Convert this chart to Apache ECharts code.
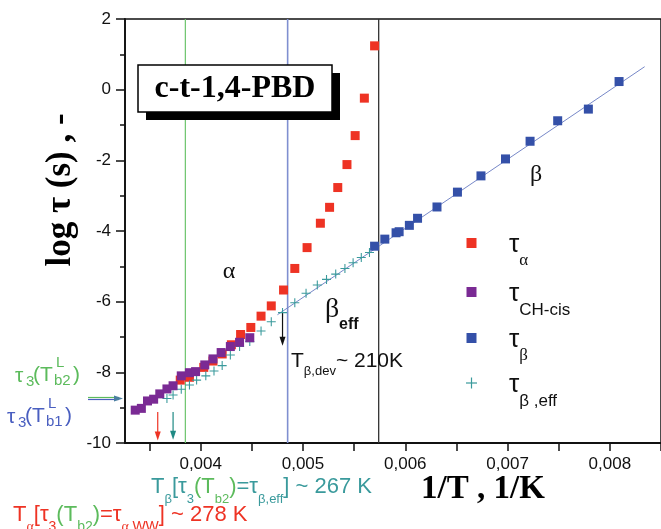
<!DOCTYPE html>
<html>
<head>
<meta charset="utf-8">
<script src="https://cdn.jsdelivr.net/npm/echarts@6/dist/echarts.min.js"></script>
<style>
  html, body { margin: 0; padding: 0; background: #fff; }
  #chart { width: 661px; height: 529px; }
</style>
</head>
<body>
<div id="chart"></div>
<script>
// 数据 (1/T, log tau)
const tauAlpha = [
  [0.00380, -8.22], [0.00389, -8.14], [0.00403, -7.86], [0.00412, -7.68],
  [0.00421, -7.48], [0.00430, -7.22], [0.00439, -6.93], [0.00449, -6.73],
  [0.00459, -6.41], [0.00469, -6.12], [0.00481, -5.67], [0.00492, -5.06],
  [0.00504, -4.47], [0.00517, -3.78], [0.00526, -3.33], [0.00534, -2.77],
  [0.00543, -2.12], [0.00551, -1.30], [0.00560, -0.24], [0.00570, 1.24]
];
const tauCH = [
  [0.00336, -9.07], [0.00342, -9.02], [0.00348, -8.81], [0.00354, -8.76],
  [0.00360, -8.61], [0.00367, -8.47], [0.00373, -8.38], [0.00381, -8.10],
  [0.00389, -8.01], [0.00395, -7.98], [0.00404, -7.79], [0.00412, -7.62],
  [0.00420, -7.44], [0.00429, -7.27], [0.00438, -7.15], [0.00448, -7.02]
];
const tauBeta = [
  [0.00570, -4.43], [0.00580, -4.23], [0.00591, -4.05], [0.00594, -4.02],
  [0.00604, -3.84], [0.00612, -3.64], [0.00631, -3.32], [0.00651, -2.90],
  [0.00674, -2.44], [0.00698, -1.96], [0.00722, -1.46], [0.00749, -0.88],
  [0.00779, -0.55], [0.00809, 0.23]
];
const tauBetaEff = [
  [0.00367, -8.74], [0.00373, -8.64], [0.00381, -8.48], [0.00389, -8.36],
  [0.00396, -8.22], [0.00405, -8.10], [0.00413, -7.96], [0.00421, -7.81],
  [0.00429, -7.51], [0.00438, -7.27], [0.00448, -7.13], [0.00459, -6.83],
  [0.00469, -6.57], [0.00480, -6.31], [0.00492, -6.03], [0.00503, -5.76],
  [0.00514, -5.53], [0.00523, -5.37], [0.00532, -5.22], [0.00541, -5.06],
  [0.00549, -4.90], [0.00557, -4.75], [0.00565, -4.61]
];
const betaFit = [[0.00475, -6.37], [0.00834, 0.65]];
const vLines = [0.00385, 0.00485, 0.00574];
const arrowRed = [[0.00358, -9.12], [0.00358, -9.80]];
const arrowTeal = [[0.00373, -9.12], [0.00373, -9.78]];
const arrowDev = [[0.00480, -6.33], [0.00480, -7.12]];
const xTicks = [0.0035, 0.004, 0.0045, 0.005, 0.0055, 0.006, 0.0065, 0.007, 0.0075, 0.008, 0.0085];
const xLabels = [0.004, 0.005, 0.006, 0.007, 0.008];
const yMin = -10, yMax = 2;

const RED = '#ee3324', PURPLE = '#7a2a94', BLUE = '#3450a8', TEAL = '#3a9a9c';
const GREEN = '#5cbb5c', LBLUE = '#4a5fc0';
const SANS = '"Liberation Sans", Arial, sans-serif';
const SERIF = '"Liberation Serif", "Times New Roman", serif';
const PLUS = 'path://M4.4,0H5.6V4.4H10V5.6H5.6V10H4.4V5.6H0V4.4H4.4Z';

// 竖线
function vLineSeries(x, color, width) {
  return {
    type: 'line', data: [[x, yMin], [x, yMax]], symbol: 'none', z: 1, silent: true,
    lineStyle: { color: color, width: width }
  };
}

// 向下箭头
function arrowSeries(pts, color) {
  return {
    type: 'line', z: 3, silent: true, showSymbol: true,
    data: [
      { value: pts[0], symbol: 'none' },
      { value: pts[1], symbol: 'triangle', symbolRotate: 180, symbolSize: [6, 9] }
    ],
    lineStyle: { color: color, width: 1.2 },
    itemStyle: { color: color }
  };
}

function txt(x, y, text, size, color, extra) {
  return {
    type: 'text', x: x, y: y, z: 100,
    style: Object.assign({
      text: text, fontSize: size, fontFamily: SANS, fill: color,
      align: 'left', verticalAlign: 'middle'
    }, extra || {})
  };
}

// 带下标的文字
function subRich(size, subSize, shift, color) {
  return {
    m: { fontSize: size, fontFamily: SANS, fill: color },
    s: { fontSize: subSize, fontFamily: SANS, fill: color, padding: [shift * 2, 0, 0, 0] },
    g: { fontSize: size, fontFamily: SANS, fill: GREEN },
    gs: { fontSize: subSize, fontFamily: SANS, fill: GREEN, padding: [shift * 2, 0, 0, 0] },
    ss: { fontSize: subSize, fontFamily: SERIF, fill: color, padding: [shift * 2, 0, 0, 0] }
  };
}

function tauLabel(x, y, color, sub) {
  return [
    txt(x, y, 'τ', 21, color),
    txt(x + 11, y + 6, '3', 15, color),
    txt(x + 18, y - 1, '(T', 21, color),
    txt(x + 41, y - 13, 'L', 15, color),
    txt(x + 39, y + 5, sub, 15, color),
    txt(x + 58, y - 1, ')', 21, color)
  ];
}

function legendItem(y, color, sub, plus) {
  const icon = plus
    ? [
        { type: 'line', z: 100, shape: { x1: 466, y1: y, x2: 477, y2: y }, style: { stroke: color, lineWidth: 1.2 } },
        { type: 'line', z: 100, shape: { x1: 471.5, y1: y - 5.5, x2: 471.5, y2: y + 5.5 }, style: { stroke: color, lineWidth: 1.2 } }
      ]
    : [{ type: 'rect', z: 100, shape: { x: 466.5, y: y - 5, width: 10, height: 10 }, style: { fill: color } }];
  return icon.concat([
    {
      type: 'text', x: 509, y: y + 2, z: 100,
      style: {
        text: '{t|τ}{s|' + sub + '}', align: 'left', verticalAlign: 'middle',
        rich: {
          t: { fontSize: 26, fontFamily: SANS, fill: '#111' },
          s: { fontSize: 17, fontFamily: sub === 'α' || sub === 'β' ? SERIF : SANS, fill: '#111', padding: [32, 0, 0, 0] }
        }
      }
    }
  ]);
}

const chart = echarts.init(document.getElementById('chart'));

const option = {
  animation: false,
  backgroundColor: '#fff',
  grid: { left: 125, right: -3, top: 19, bottom: 86, show: true, borderColor: '#111', borderWidth: 1.5 },
  xAxis: {
    type: 'value', min: 0.00326, max: 0.0085,
    axisLine: { show: true, onZero: false, lineStyle: { color: '#111', width: 1.8 } },
    axisTick: { show: true, inside: false, length: 8, customValues: xTicks, lineStyle: { color: '#111', width: 1.5 } },
    axisLabel: {
      customValues: xLabels, margin: 13, fontSize: 17, fontFamily: SANS, color: '#111',
      formatter: v => v.toFixed(3).replace('.', ',')
    },
    splitLine: { show: false }
  },
  yAxis: {
    type: 'value', min: yMin, max: yMax, interval: 2,
    axisLine: { show: true, onZero: false, lineStyle: { color: '#111', width: 1.8 } },
    axisTick: { show: true, inside: false, length: 9, lineStyle: { color: '#111', width: 1.5 } },
    minorTick: { show: true, splitNumber: 2, length: 5, lineStyle: { color: '#111', width: 1.5 } },
    axisLabel: { margin: 14, fontSize: 17, fontFamily: SANS, color: '#111' },
    splitLine: { show: false }
  },
  series: [
    vLineSeries(vLines[0], '#6cc46c', 1.2),
    vLineSeries(vLines[1], '#7f8fd0', 1.6),
    vLineSeries(vLines[2], '#333', 1.3),
    {
      name: 'fit', type: 'line', data: betaFit, symbol: 'none', z: 1, silent: true,
      lineStyle: { color: '#7788c8', width: 1 }
    },
    arrowSeries(arrowRed, RED),
    arrowSeries(arrowTeal, '#1f8a84'),
    arrowSeries(arrowDev, '#111'),
    { name: 'τα', type: 'scatter', data: tauAlpha, symbol: 'rect', symbolSize: 9, itemStyle: { color: RED, opacity: 1 } },
    { name: 'τβ', type: 'scatter', data: tauBeta, symbol: 'rect', symbolSize: 9, itemStyle: { color: BLUE, opacity: 1 } },
    { name: 'τβ,eff', type: 'scatter', data: tauBetaEff, symbol: PLUS, symbolSize: 9, itemStyle: { color: TEAL, opacity: 1 } },
    { name: 'τCH-cis', type: 'scatter', data: tauCH, symbol: 'rect', symbolSize: 9, itemStyle: { color: PURPLE, opacity: 1 } }
  ],
  graphic: [
    // 标题框
    { type: 'rect', z: 100, shape: { x: 146, y: 73, width: 194, height: 47 }, style: { fill: '#000' } },
    { type: 'rect', z: 101, shape: { x: 138, y: 65, width: 194, height: 47 }, style: { fill: '#fff', stroke: '#000', lineWidth: 1.5 } },
    { type: 'text', z: 102, x: 235, y: 89, style: { text: 'c-t-1,4-PBD', fontSize: 32, fontWeight: 'bold', fontFamily: SERIF, fill: '#000', align: 'center', verticalAlign: 'middle' } },
    // 坐标轴标题
    { type: 'text', z: 100, x: 61, y: 190, rotation: Math.PI / 2, style: { text: 'log τ (s) , -', fontSize: 35, fontWeight: 'bold', fontFamily: SERIF, fill: '#000', align: 'center', verticalAlign: 'middle' } },
    { type: 'text', z: 100, x: 483, y: 489, style: { text: '1/T , 1/K', fontSize: 33, fontWeight: 'bold', fontFamily: SERIF, fill: '#000', align: 'center', verticalAlign: 'middle' } },
    // 区域标记
    txt(229, 272, 'α', 24, '#111', { fontFamily: SERIF, align: 'center' }),
    txt(536, 175, 'β', 24, '#111', { fontFamily: SERIF, align: 'center' }),
    txt(332, 310, 'β', 28, '#111', { fontFamily: SERIF, align: 'center' }),
    txt(339, 325, 'eff', 16, '#111', { fontWeight: 'bold' }),
    {
      type: 'text', x: 291, y: 361, z: 100,
      style: { text: '{m|T}{s|β,dev}{m|~ 210K}', align: 'left', verticalAlign: 'middle', rich: subRich(21, 13, 10, '#111') }
    },
    // 底部注释
    {
      type: 'text', x: 151, y: 487, z: 100,
      style: { text: '{m|T}{s|β}{m|[τ}{s|3}{g|(T}{gs|b2}{g|)}{m|=τ}{s|β,eff}{m|] ~ 267 K}', align: 'left', verticalAlign: 'middle', rich: subRich(22, 13, 12, TEAL) }
    },
    {
      type: 'text', x: 13, y: 515, z: 100,
      style: { text: '{m|T}{ss|α}{m|[τ}{s|3}{g|(T}{gs|b2}{g|)}{m|=τ}{ss|α,}{s|WW}{m|] ~ 278 K}', align: 'left', verticalAlign: 'middle', rich: subRich(22, 14, 12, RED) }
    }
  ]
    .concat(tauLabel(15, 376, GREEN, 'b2'))
    .concat(tauLabel(7, 417, LBLUE, 'b1'))
    .concat([
      // 左侧箭头
      { type: 'line', z: 100, shape: { x1: 88, y1: 397.5, x2: 119, y2: 397.5 }, style: { stroke: GREEN, lineWidth: 1.2 } },
      { type: 'line', z: 100, shape: { x1: 88, y1: 399.5, x2: 119, y2: 399.5 }, style: { stroke: LBLUE, lineWidth: 1.2 } },
      { type: 'polygon', z: 100, shape: { points: [[114, 395.5], [123, 398.5], [114, 401.5]] }, style: { fill: '#4a7fa0' } }
    ])
    // 图例
    .concat(legendItem(243, RED, 'α'))
    .concat(legendItem(292, PURPLE, 'CH-cis'))
    .concat(legendItem(338, BLUE, 'β'))
    .concat(legendItem(383, TEAL, 'β ,eff', true))
};

chart.setOption(option);
</script>
</body>
</html>
